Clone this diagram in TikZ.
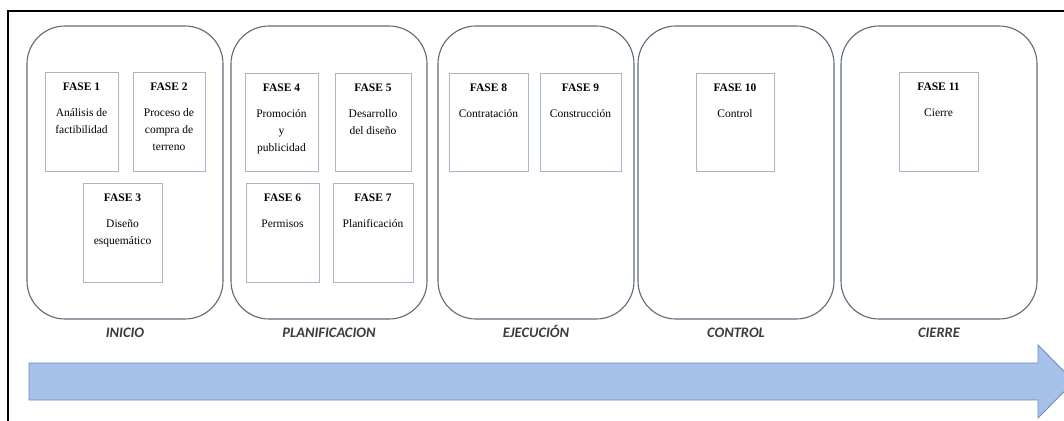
\documentclass[tikz,border=0pt]{standalone}
\usepackage{fontspec}
\setmainfont{Liberation Serif}
\newfontfamily\calibri{Carlito}
\usetikzlibrary{positioning}
\definecolor{bordeetapa}{HTML}{5E6A78}
\definecolor{bordefase}{HTML}{A9B6C6}
\definecolor{flechaborde}{HTML}{6F8DBE}
\definecolor{flechaclaro}{HTML}{D0E1F7}
\definecolor{flechaoscuro}{HTML}{A6C2EA}
\definecolor{etiquetagris}{HTML}{3C3C3C}

\begin{document}
\begin{tikzpicture}[x=1pt, y=-1pt,
    etapa node/.style={draw=bordeetapa, line width=1.1pt, rounded corners=38pt, minimum width=196pt, minimum height=293pt, inner sep=0pt},
    fase node/.style={draw=bordefase, line width=0.8pt, inner sep=0pt},
    texto node/.style={align=center, inner sep=0pt, font=\fontsize{11.5}{17}\selectfont},
    label node/.style={inner sep=0pt, text height=10pt, text depth=2pt, text=etiquetagris, font=\calibri\bfseries\itshape\fontsize{14.5}{16}\selectfont}]
        \tikzstyle{every node}=[font=\small]

          \useasboundingbox (0,0) rectangle (1064,420);
          \fill[white] (0,0) rectangle (1064,420);

          % marco
          \draw[line width=1.5pt] (8,430) -- (8,11) -- (1080,11);

          % etapas
          \node[etapa node] (inicio) at (125,172.5) {};
          \node[etapa node] (planif) at (329,172.5) {};
          \node[etapa node] (ejec) at (536,172.5) {};
          \node[etapa node] (control) at (736,172.5) {};
          \node[etapa node] (cierre) at (939,172.5) {};

          \node[label node] [below=8pt of inicio] {INICIO};
          \node[label node] [below=8pt of planif] {PLANIFICACION};
          \node[label node] [below=8pt of ejec] {EJECUCIÓN};
          \node[label node] [below=8pt of control] {CONTROL};
          \node[label node] [below=8pt of cierre] {CIERRE};

          % fases
          \node[fase node, minimum width=73pt, minimum height=99pt] (f1) at (81.5,121.5) {};
          \node[fase node, minimum width=72pt, minimum height=99pt] (f2) at (169,121.5) {};
          \node[fase node, minimum width=79pt, minimum height=99pt] (f3) at (122.5,232.5) {};
          \node[fase node, minimum width=73pt, minimum height=98pt] (f4) at (281.5,122) {};
          \node[fase node, minimum width=76pt, minimum height=98pt] (f5) at (373,122) {};
          \node[fase node, minimum width=73pt, minimum height=99pt] (f6) at (282.5,232.5) {};
          \node[fase node, minimum width=80pt, minimum height=99pt] (f7) at (373,232.5) {};
          \node[fase node, minimum width=79pt, minimum height=98pt] (f8) at (488.5,122) {};
          \node[fase node, minimum width=81pt, minimum height=98pt] (f9) at (580.5,122) {};
          \node[fase node, minimum width=78pt, minimum height=98pt] (f10) at (735,122) {};
          \node[fase node, minimum width=79pt, minimum height=99pt] (f11) at (938.5,121.5) {};

          \node[texto node] [below=11pt of f1.north] {\textbf{FASE 1}\\[9pt]Análisis de\\factibilidad};
          \node[texto node] [below=11pt of f2.north] {\textbf{FASE 2}\\[9pt]Proceso de\\compra de\\terreno};
          \node[texto node] [below=11pt of f3.north] {\textbf{FASE 3}\\[9pt]Diseño\\esquemático};
          \node[texto node] [below=11pt of f4.north] {\textbf{FASE 4}\\[9pt]Promoción\\y\\publicidad};
          \node[texto node] [below=11pt of f5.north] {\textbf{FASE 5}\\[9pt]Desarrollo\\del diseño};
          \node[texto node] [below=11pt of f6.north] {\textbf{FASE 6}\\[9pt]Permisos};
          \node[texto node] [below=11pt of f7.north] {\textbf{FASE 7}\\[9pt]Planificación};
          \node[texto node] [below=11pt of f8.north] {\textbf{FASE 8}\\[9pt]Contratación};
          \node[texto node] [below=11pt of f9.north] {\textbf{FASE 9}\\[9pt]Construcción};
          \node[texto node] [below=11pt of f10.north] {\textbf{FASE 10}\\[9pt]Control};
          \node[texto node] [below=11pt of f11.north] {\textbf{FASE 11}\\[9pt]Cierre};

          % flecha
          \shade[top color=flechaoscuro, middle color=flechaclaro, bottom color=flechaoscuro]
            (29,363) -- (1038,363) -- (1038,345) -- (1074,381.5) -- (1038,418) -- (1038,400) -- (29,400) -- cycle;
          \draw[flechaborde, line width=0.9pt]
            (29,363) -- (1038,363) -- (1038,345) -- (1074,381.5) -- (1038,418) -- (1038,400) -- (29,400) -- cycle;

        \end{tikzpicture}
\end{document}
